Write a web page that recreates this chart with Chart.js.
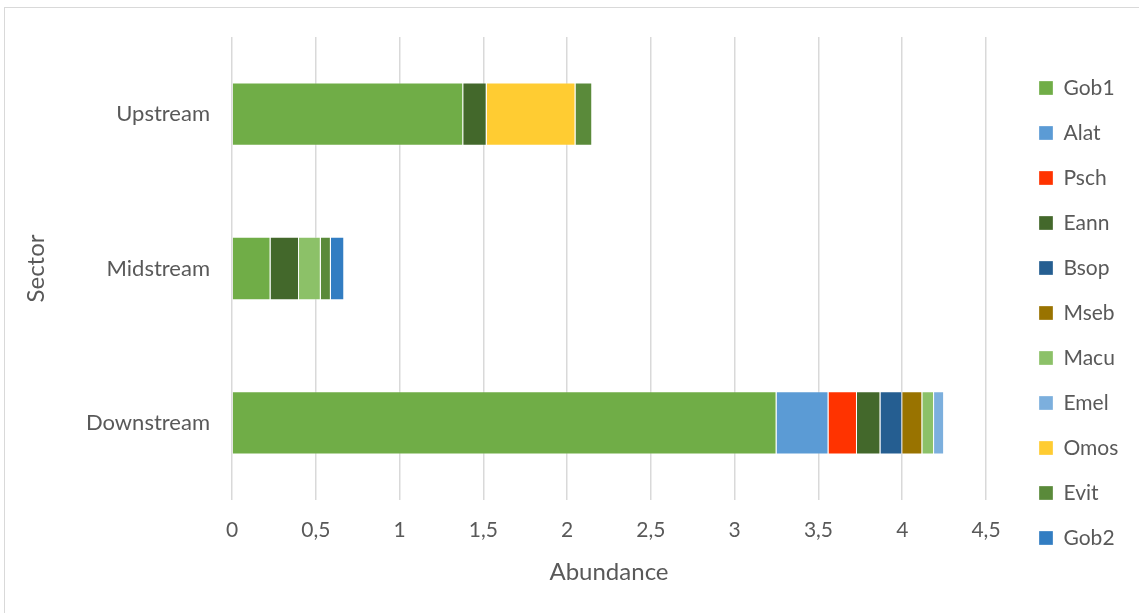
<!DOCTYPE html>
<html>
<head>
<meta charset="utf-8">
<script src="https://cdn.jsdelivr.net/npm/chart.js@4.4.1/dist/chart.umd.min.js"></script>
<style>
  html, body { margin: 0; padding: 0; background: #fff; }
  #wrap { position: relative; width: 1139px; height: 613px; overflow: hidden; }
  #frame { position: absolute; left: 4px; top: 7px; width: 1200px; height: 700px; border: 1px solid #d9d9d9; box-sizing: border-box; }
  #box { position: absolute; left: 0; top: 0; width: 1139px; height: 613px; }
</style>
</head>
<body>
<div id="wrap">
  <div id="frame"></div>
  <div id="box"><canvas id="sectorChart"></canvas></div>
</div>
<script>
const sectors = ['Upstream', 'Midstream', 'Downstream']
const xTickLabels = ['0', '0,5', '1', '1,5', '2', '2,5', '3', '3,5', '4', '4,5']

// abundance per species, one value per sector (null = not found)
const gob1 = [1.38, 0.23, 3.25]
const alat = [null, null, 0.31]
const psch = [null, null, 0.17]
const eann = [0.14, 0.17, 0.14]
const bsop = [null, null, 0.13]
const mseb = [null, null, 0.12]
const macu = [null, 0.13, 0.07]
const emel = [null, null, 0.06]
const omos = [0.53, null, null]
const evit = [0.10, 0.06, null]
const gob2 = [null, 0.08, null]

const species = [
    ['Gob1', gob1, '#70AD47'],
    ['Alat', alat, '#5B9BD5'],
    ['Psch', psch, '#FF3300'],
    ['Eann', eann, '#43682B'],
    ['Bsop', bsop, '#255E91'],
    ['Mseb', mseb, '#997300'],
    ['Macu', macu, '#8CC168'],
    ['Emel', emel, '#7CAFDD'],
    ['Omos', omos, '#FFCC32'],
    ['Evit', evit, '#5A8A3A'],
    ['Gob2', gob2, '#327DC2'],
]

const font = "Lato, 'Open Sans', sans-serif"
const grey = '#595959'

// legend column: fixed width, drawn a bit right of the plot edge
const LEGEND_W = 153
const LEGEND_SHIFT = 29
const LEGEND_LIFT = 3
const legendSpacing = {
    id: 'legendSpacing',
    afterInit(chart) {
        const legend = chart.legend
        const fit = legend.fit
        legend.fit = function () {
            fit.call(this)
            this.width = LEGEND_W
        }
    },
    afterLayout(chart) {
        const lg = chart.legend
        lg.left += LEGEND_SHIFT
        lg.right += LEGEND_SHIFT
        lg.top -= LEGEND_LIFT
        lg.bottom -= LEGEND_LIFT
    }
}

new Chart(document.getElementById('sectorChart').getContext('2d'), {
    type: 'bar',
    data: {
        labels: sectors,
        datasets: species.map(([name, values, color]) => ({
            label: name,
            data: values,
            backgroundColor: color,
            borderColor: 'rgba(255,255,255,0.3)',
            borderWidth: 1,
            barPercentage: 0.41,
            categoryPercentage: 1.0,
        }))
    },
    plugins: [legendSpacing],
    options: {
        indexAxis: 'y',
        responsive: true,
        maintainAspectRatio: false,
        animation: false,
        layout: { padding: { left: 20, top: 37, right: 0, bottom: 18 } },
        plugins: {
            tooltip: { enabled: false },
            legend: {
                position: 'right',
                labels: {
                    font: { family: font, size: 21 },
                    color: grey,
                    boxWidth: 14,
                    boxHeight: 14,
                    padding: 24,
                }
            }
        },
        scales: {
            x: {
                stacked: true,
                min: 0,
                max: 4.5,
                border: { display: false },
                grid: { color: '#d9d9d9', lineWidth: 1.5, drawTicks: false },
                afterFit: (scale) => { scale.height = 95 },
                ticks: {
                    stepSize: 0.5,
                    padding: 18,
                    maxRotation: 0,
                    color: grey,
                    font: { family: font, size: 21 },
                    callback: (v) => xTickLabels[Math.round(v * 2)]
                },
                title: {
                    display: true,
                    text: 'Abundance',
                    color: grey,
                    font: { family: font, size: 24 },
                    padding: { top: 0, bottom: 8 }
                }
            },
            y: {
                stacked: true,
                border: { display: false },
                grid: { display: false, drawTicks: false },
                afterFit: (scale) => { scale.width = 212 },
                ticks: {
                    padding: 22,
                    color: grey,
                    font: { family: font, size: 22 }
                },
                title: {
                    display: true,
                    text: 'Sector',
                    color: grey,
                    font: { family: font, size: 24 },
                    padding: { top: 2, bottom: 0 }
                }
            }
        }
    }
})
</script>
</body>
</html>
